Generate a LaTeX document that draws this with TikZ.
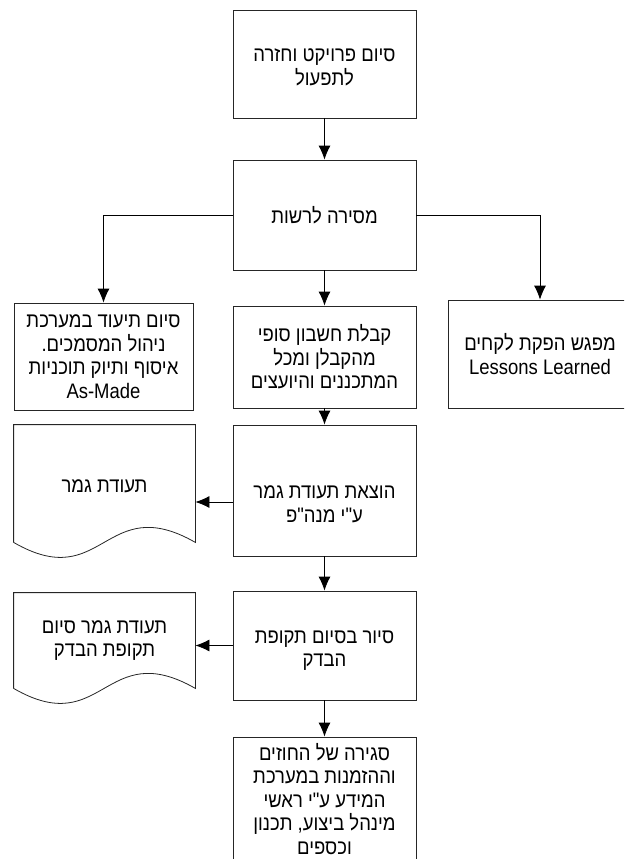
\documentclass[tikz,border=0pt]{standalone}
\usepackage{fontspec}
\setmainfont{Liberation Sans}
\newfontfamily\hebfont[Script=Hebrew,FakeStretch=0.88]{Liberation Sans}
\TeXXeTstate=1
\usetikzlibrary{arrows.meta}
\newcommand{\hebline}[1]{\beginR#1\endR}
\tikzstyle{stepbox}=[draw=black!85, line width=0.8pt, minimum width=183, align=center, inner sep=2pt, font=\hebfont\fontsize{21}{23.5}\selectfont]
\tikzstyle{docbox}=[minimum width=181, align=center, inner sep=2pt, font=\hebfont\fontsize{21}{23.5}\selectfont]
\tikzstyle{docline}=[draw=black!85, line width=0.8pt]

\begin{document}
\begin{tikzpicture}[x=1pt,y=-1pt,>={Latex[length=14pt,width=12pt]},line width=0.8pt]
    \useasboundingbox (0,0) rectangle (624,859);
    \clip (0,0) rectangle (624,859);
    % main column
    \node [stepbox, minimum height=108] (finish) at (324.5,64) {\rule{0pt}{19pt}\hebline{סיום פרויקט וחזרה}\\\hebline{לתפעול}};
    \node [stepbox, minimum height=110] (handover) at (324.5,215) {\hebline{מסירה לרשות}};
    \node [stepbox, minimum height=102] (receipt) at (324.5,357) {\hebline{קבלת חשבון סופי}\\\hebline{מהקבלן ומכל}\\\hebline{המתכננים והיועצים}};
    \node [stepbox, minimum height=131] (issue) at (324.5,490.5) {\rule{0pt}{40pt}\hebline{הוצאת תעודת גמר}\\\hebline{ע"י מנה"פ}};
    \node [stepbox, minimum height=109] (tour) at (324.5,645.5) {\rule{0pt}{23pt}\hebline{סיור בסיום תקופת}\\\hebline{הבדק}};
    \node [stepbox, minimum height=124] (closing) at (324.5,799) {\hebline{סגירה של החוזים}\\\hebline{וההזמנות במערכת}\\\hebline{המידע ע"י ראשי}\\\hebline{מינהל ביצוע, תכנון}\\\hebline{וכספים}};
    % side branches
    \node [stepbox, minimum width=179, minimum height=107] (docs) at (103.5,356.5) {\hebline{סיום תיעוד במערכת}\\\hebline{ניהול המסמכים.}\\\hebline{איסוף ותיוק תוכניות}\\As-Made};
    \node [stepbox, minimum width=184, minimum height=108] (lessons) at (540,354) {\hebline{מפגש הפקת לקחים}\\Lessons Learned};
    % documents
    \node [docbox, minimum height=117] (cert) at (104.5,483.5) {\rule{0pt}{19pt}\hebline{תעודת גמר}};
    \node [docbox, minimum height=95] (warranty) at (104.5,640.5) {\hebline{תעודת גמר סיום}\\\hebline{תקופת הבדק}};
    \draw [docline] (cert.south west) -- (cert.north west) -- (cert.north east) -- (cert.south east)
        .. controls +(-91,-52) and +(90,52) .. (cert.south west);
    \draw [docline] (warranty.south west) -- (warranty.north west) -- (warranty.north east) -- (warranty.south east)
        .. controls +(-91,-52) and +(90,52) .. (warranty.south west);
    % connectors
    \coordinate (certin) at (cert.east |- 0,502);
    \draw [->] (finish) -- (handover);
    \draw [->] (handover) -- (receipt);
    \draw [->] (handover.west) -| (docs.north);
    \draw [->] (handover.east) -| (lessons.north);
    \draw [->] (receipt) -- (issue);
    \draw [->] (issue.west |- certin) -- (certin);
    \draw [->] (issue) -- (tour);
    \draw [->] (tour.west) -- (tour.west -| warranty.east);
    \draw [->] (tour) -- (closing);
\end{tikzpicture}
\end{document}
